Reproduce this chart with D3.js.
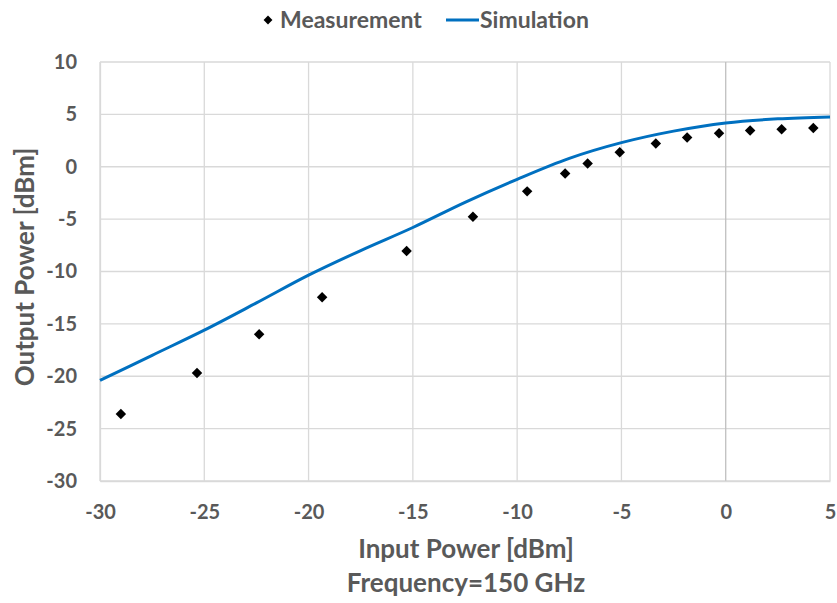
<!DOCTYPE html>
<html>
<head>
<meta charset="utf-8">
<script src="https://cdn.jsdelivr.net/npm/d3@7.9.0/dist/d3.min.js"></script>
<style>
  body { margin: 0; background: #fff; }
  svg text { font-family: Lato, "Open Sans", sans-serif; font-weight: bold; fill: #595959; }
</style>
</head>
<body>
<svg id="chart" width="837" height="603"></svg>
<script>
// measured points
const measIn = [-29, -25.35, -22.37, -19.35, -15.3, -12.12, -9.52, -7.7, -6.62, -5.08, -3.35, -1.85, -0.32, 1.17, 2.68, 4.2];
const measOut = [-23.6, -19.7, -16.0, -12.45, -8.05, -4.78, -2.35, -0.65, 0.3, 1.38, 2.22, 2.8, 3.2, 3.47, 3.58, 3.7];

// simulated curve
const simIn = [-30, -27.5, -25, -22.5, -20, -17.5, -15, -12.5, -10, -7.5, -5, -2.5, 0, 2.5, 5];
const simOut = [-20.4, -18.0, -15.6, -13.0, -10.35, -8.0, -5.8, -3.4, -1.2, 0.8, 2.3, 3.4, 4.18, 4.58, 4.76];

const xTicks = [-30, -25, -20, -15, -10, -5, 0, 5];
const yTicks = [10, 5, 0, -5, -10, -15, -20, -25, -30];

const svg = d3.select("#chart");
const plotL = 100, plotR = 830, plotT = 62, plotB = 481;

const x = d3.scaleLinear().domain([-30, 5]).range([plotL, plotR]);
const y = d3.scaleLinear().domain([-30, 10]).range([plotB, plotT]);

// grid
svg.append("g")
  .selectAll("line")
  .data(yTicks)
  .join("line")
  .attr("x1", plotL).attr("x2", plotR)
  .attr("y1", (d) => y(d)).attr("y2", (d) => y(d))
  .attr("stroke", "#d9d9d9").attr("stroke-width", 1.3);

svg.append("g")
  .selectAll("line")
  .data(xTicks)
  .join("line")
  .attr("x1", (d) => x(d)).attr("x2", (d) => x(d))
  .attr("y1", plotT).attr("y2", plotB)
  .attr("stroke", (d) => (d === 0 ? "#bfbfbf" : "#d9d9d9"))
  .attr("stroke-width", 1.3);

// axes labels (Excel style, no tick marks)
const fmt = (d) => String(d);
const xAxis = svg.append("g")
  .attr("transform", `translate(0,${plotB})`)
  .call(d3.axisBottom(x).tickValues(xTicks).tickFormat(fmt).tickSize(0).tickPadding(24));
xAxis.select(".domain").attr("stroke", "#d9d9d9").attr("stroke-width", 1.3);
xAxis.selectAll("text").attr("font-size", 20);

const yAxis = svg.append("g")
  .attr("transform", `translate(${plotL},0)`)
  .call(d3.axisLeft(y).tickValues(yTicks).tickFormat(fmt).tickSize(0).tickPadding(23));
yAxis.select(".domain").attr("stroke", "#d9d9d9").attr("stroke-width", 1.3);
yAxis.selectAll("text").attr("font-size", 20);

// simulation line
const simData = simIn.map((v, i) => [v, simOut[i]]);
svg.append("path")
  .datum(simData)
  .attr("fill", "none")
  .attr("stroke", "#0070c0")
  .attr("stroke-width", 3)
  .attr("d", d3.line().x((d) => x(d[0])).y((d) => y(d[1])).curve(d3.curveCatmullRom));

// measurement diamonds
const diamond = d3.symbol().type(d3.symbolDiamond2).size(70);
svg.append("g")
  .selectAll("path")
  .data(measIn.map((v, i) => [v, measOut[i]]))
  .join("path")
  .attr("d", diamond)
  .attr("transform", (d) => `translate(${x(d[0])},${y(d[1])})`)
  .attr("fill", "#000");

// axis titles
svg.append("text")
  .attr("x", (plotL + plotR) / 2 + 1).attr("y", 558)
  .attr("text-anchor", "middle").attr("font-size", 26)
  .text("Input Power [dBm]");
svg.append("text")
  .attr("x", (plotL + plotR) / 2 + 1).attr("y", 592)
  .attr("text-anchor", "middle").attr("font-size", 26)
  .text("Frequency=150 GHz");
svg.append("text")
  .attr("transform", "translate(34,267) rotate(-90)")
  .attr("text-anchor", "middle").attr("font-size", 26)
  .text("Output Power [dBm]");

// legend
const lg = svg.append("g");
lg.append("path")
  .attr("d", d3.symbol().type(d3.symbolDiamond2).size(50))
  .attr("transform", "translate(268,20)")
  .attr("fill", "#000");
lg.append("text").attr("x", 280).attr("y", 28).attr("font-size", 23).text("Measurement");
lg.append("line")
  .attr("x1", 446).attr("x2", 479).attr("y1", 20).attr("y2", 20)
  .attr("stroke", "#0070c0").attr("stroke-width", 3);
lg.append("text").attr("x", 480).attr("y", 28).attr("font-size", 23).text("Simulation");
</script>
</body>
</html>
